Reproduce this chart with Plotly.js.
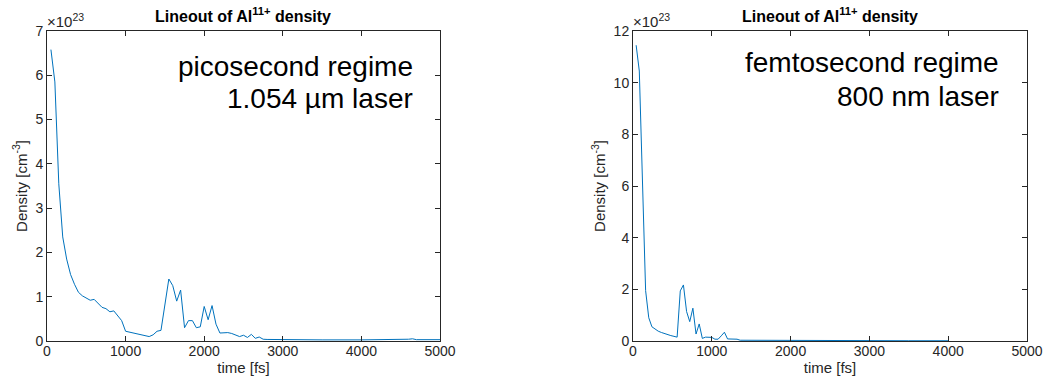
<!DOCTYPE html>
<html>
<head>
<meta charset="utf-8">
<script src="https://cdn.plot.ly/plotly-3.0.1.min.js"></script>
<style>html,body{margin:0;padding:0;background:#fff;}#chart{width:1048px;height:378px;}</style>
</head>
<body>
<div id="chart"></div>
<script>
// Picosecond regime (left panel), density in units of 1e23 cm^-3
const timePs = [50,100,150,200,250,300,350,400,450,500,550,600,650,700,750,800,850,900,950,1000,
  1050,1100,1150,1200,1250,1300,1350,1400,1450,1500,1550,1600,1650,1700,1750,1800,1850,1900,1950,2000,
  2050,2100,2150,2200,2250,2300,2350,2400,2450,2500,2550,2600,2650,2700,2750,2800,3000,3500,4000,4500,4600,4650,4700,5000];
const densPs = [6.58,5.85,3.55,2.35,1.85,1.50,1.28,1.10,1.02,0.96,0.92,0.94,0.84,0.76,0.73,0.66,0.68,0.58,0.46,0.22,
  0.20,0.18,0.15,0.13,0.12,0.10,0.14,0.22,0.24,0.85,1.40,1.25,0.90,1.15,0.30,0.46,0.46,0.30,0.32,0.78,
  0.48,0.80,0.38,0.18,0.18,0.19,0.17,0.14,0.10,0.13,0.08,0.15,0.06,0.09,0.04,0.035,0.03,0.025,0.025,0.025,0.04,0.05,0.03,0.03];

// Femtosecond regime (right panel)
const timeFs = [40,80,160,200,240,280,320,360,400,440,480,520,560,600,640,680,720,760,800,840,
  880,920,960,1000,1040,1080,1120,1160,1200,1240,1280,1320,1360,1400,1500,1600,2000,2500,3000,3500,4000];
const densFs = [11.45,10.45,1.95,0.90,0.55,0.45,0.38,0.33,0.28,0.24,0.21,0.18,0.15,1.94,2.17,1.14,0.75,1.27,0.27,0.66,
  0.10,0.15,0.15,0.14,0.07,0.07,0.20,0.34,0.08,0.08,0.07,0.07,0.03,0.03,0.04,0.02,0.015,0.015,0.015,0.01,0.01];

const titleText = "Lineout of Al<sup>11+</sup> density";
const xTitle = "time [fs]";
const yTitle = "Density [cm<sup>-3</sup>]";
const expText = "×10<sup>23</sup>";
const leftLabel = ["picosecond regime", "1.054 µm laser"];
const rightLabel = ["femtosecond regime", "800 nm laser"];

const W = 1048, H = 378;
const px = x => x / W;
const py = y => 1 - y / H;
const FONT = "Liberation Sans, Arial, Helvetica, sans-serif";
const AX = "#262626";
const LINE = "#0072BD";

function xax(domain, anchor) {
  return {
    domain: domain, anchor: anchor, range: [0, 5000], dtick: 1000, tick0: 0,
    showgrid: false, zeroline: false, showline: true, linecolor: AX, linewidth: 1,
    mirror: 'ticks', ticks: 'inside', ticklen: 5, tickcolor: AX, tickwidth: 1,
    tickfont: {family: FONT, size: 14, color: AX}, ticklabelstandoff: -3,
    title: {text: xTitle, font: {family: FONT, size: 15, color: AX}, standoff: 0},
    automargin: false, fixedrange: true
  };
}
function yax(domain, anchor, maxv, dt) {
  return {
    domain: domain, anchor: anchor, range: [0, maxv], dtick: dt, tick0: 0,
    showgrid: false, zeroline: false, showline: true, linecolor: AX, linewidth: 1,
    mirror: 'ticks', ticks: 'inside', ticklen: 5, tickcolor: AX, tickwidth: 1,
    tickfont: {family: FONT, size: 14, color: AX},
    title: {text: yTitle, font: {family: FONT, size: 15, color: AX}, standoff: 4},
    automargin: false, fixedrange: true
  };
}

const yDom = [py(341), py(31)];

const traces = [
  {x: timePs, y: densPs, type: 'scatter', mode: 'lines', line: {color: LINE, width: 1}, xaxis: 'x', yaxis: 'y', hoverinfo: 'skip'},
  {x: timeFs, y: densFs, type: 'scatter', mode: 'lines', line: {color: LINE, width: 1}, xaxis: 'x2', yaxis: 'y2', hoverinfo: 'skip'}
];

function ann(text, x, y, xanchor, size, bold, color) {
  return {text: bold ? "<b>" + text + "</b>" : text, xref: 'paper', yref: 'paper', x: px(x), y: py(y),
    xanchor: xanchor, yanchor: 'middle', showarrow: false,
    font: {family: FONT, size: size, color: color}};
}

const layout = {
  width: W, height: H,
  margin: {l: 0, r: 0, t: 0, b: 0},
  paper_bgcolor: '#fff', plot_bgcolor: '#fff',
  showlegend: false,
  xaxis: xax([px(47), px(440)], 'y'),
  yaxis: yax(yDom, 'x', 7, 1),
  xaxis2: xax([px(633), px(1027)], 'y2'),
  yaxis2: yax(yDom, 'x2', 12, 2),
  annotations: [
    ann(titleText, 243, 15, 'center', 16, true, '#000'),
    ann(titleText, 830, 15, 'center', 16, true, '#000'),
    ann(expText, 45, 20, 'left', 15, false, AX),
    ann(expText, 631, 20, 'left', 15, false, AX),
    ann(leftLabel[0], 415, 67, 'right', 28, false, '#000'),
    ann(leftLabel[1], 415, 98, 'right', 28, false, '#000'),
    ann(rightLabel[0], 1001, 63, 'right', 28, false, '#000'),
    ann(rightLabel[1], 1001, 96, 'right', 28, false, '#000')
  ]
};

Plotly.newPlot('chart', traces, layout, {staticPlot: true, displayModeBar: false});
</script>
</body>
</html>
